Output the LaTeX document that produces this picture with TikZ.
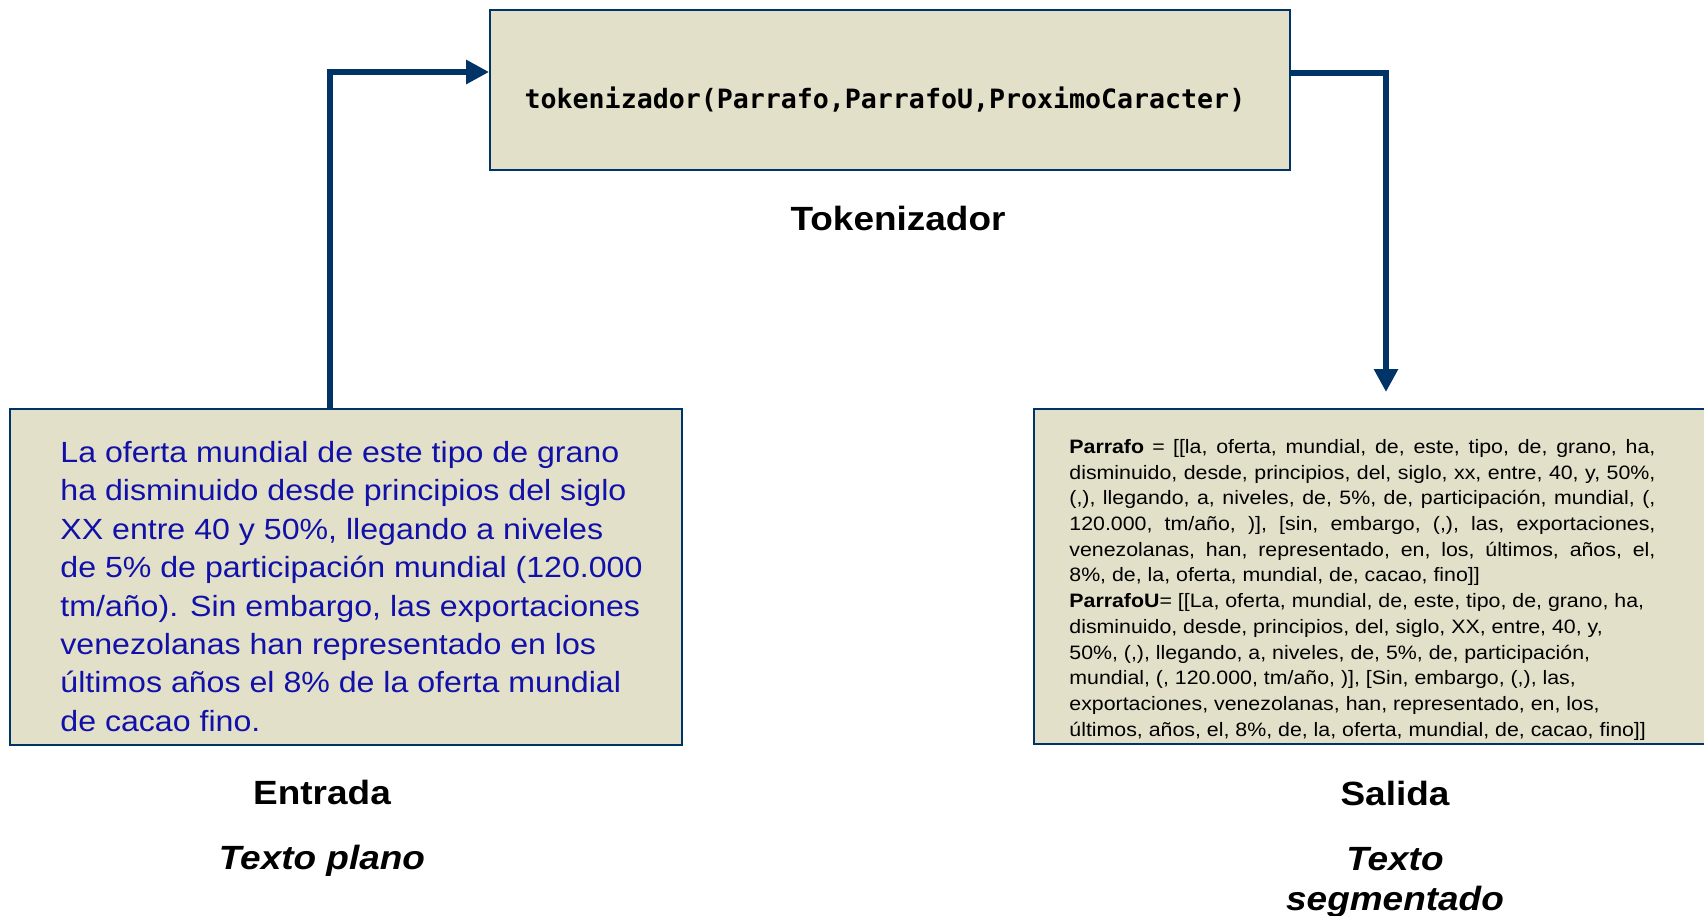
\documentclass[tikz,border=0pt]{standalone}
\usepackage{fontspec}
\setmainfont[FakeStretch=1.1]{Liberation Sans}
\newfontfamily\codigo{DejaVu Sans Mono}
\usetikzlibrary{arrows.meta}
\definecolor{marino}{RGB}{0,51,102}
\definecolor{arena}{RGB}{226,224,200}
\definecolor{azul}{RGB}{17,17,170}
\newcommand{\justa}[1]{\hbox to 293pt{#1}}
\begin{document}
\begin{tikzpicture}[x=0.5pt,y=-0.5pt,line join=miter,>={Triangle[length=11.5pt,width=11.5pt]}]
\tikzset{caja/.style={draw=marino,line width=0.9pt,fill=arena,inner sep=0pt},
	titulo/.style={font=\fontsize{16.8}{20}\selectfont\bfseries,anchor=base},
	subtitulo/.style={font=\fontsize{16.8}{20}\selectfont\bfseries\itshape,anchor=base},
	flecha/.style={->,draw=marino,line width=3.3pt}}
\useasboundingbox (0,0) rectangle (1704,916);
% cajas
\node[caja,minimum width=400pt,minimum height=80pt] (tok) at (890,90) {};
\node[caja,minimum width=336pt,minimum height=168pt] (entrada) at (346,577) {};
\node[caja,minimum width=343pt,minimum height=167.5pt] (salida) at (1377,576.5) {};
% textos
\node[font={\codigo\bfseries\fontsize{13.3}{16}\selectfont},anchor=base] (llamada) at (885,108)
	{tokenizador(Parrafo,ParrafoU,ProximoCaracter)};
\node[anchor=north west,inner sep=0pt,align=left,text=azul,font=\fontsize{14.6}{19.2}\selectfont] (plano) at (60,441)
	{La oferta mundial de este tipo de grano\\
	ha disminuido desde principios del siglo\\
	XX entre 40 y 50\%, llegando a niveles\\
	de 5\% de participación mundial (120.000\\
	tm/año). Sin embargo, las exportaciones\\
	venezolanas han representado en los\\
	últimos años el 8\% de la oferta mundial\\
	de cacao fino.};
\node[anchor=north west,inner sep=0pt,align=left,font=\fontsize{9.7}{12.85}\selectfont] (tokens) at (1069,439)
	{\justa{\textbf{Parrafo} = [[la, oferta, mundial, de, este, tipo, de, grano, ha,}\\
	\justa{disminuido, desde, principios, del, siglo, xx, entre, 40, y, 50\%,}\\
	\justa{(,), llegando, a, niveles, de, 5\%, de, participación, mundial, (,}\\
	\justa{120.000, tm/año, )], [sin, embargo, (,), las, exportaciones,}\\
	\justa{venezolanas, han, representado, en, los, últimos, años, el,}\\
	8\%, de, la, oferta, mundial, de, cacao, fino]]\\
	\textbf{ParrafoU}= [[La, oferta, mundial, de, este, tipo, de, grano, ha,\\
	disminuido, desde, principios, del, siglo, XX, entre, 40, y,\\
	50\%, (,), llegando, a, niveles, de, 5\%, de, participación,\\
	mundial, (, 120.000, tm/año, )], [Sin, embargo, (,), las,\\
	exportaciones, venezolanas, han, representado, en, los,\\
	últimos, años, el, 8\%, de, la, oferta, mundial, de, cacao, fino]]};
\node[titulo] (nTok) at (898,230) {Tokenizador};
\node[titulo] (nEnt) at (322,804) {Entrada};
\node[subtitulo] (nPlano) at (322,869) {Texto plano};
\node[titulo] (nSal) at (1395,805) {Salida};
\node[subtitulo,anchor=north,align=center] (nSeg) at (1395,840) {Texto\\segmentado};
% flechas
\coordinate (codo1) at (330,72);
\coordinate (codo2) at (1386,73);
\coordinate (fin2) at (1386,392);
\draw[flecha] (entrada.north -| codo1) |- (tok.west |- codo1);
\draw[flecha] (tok.east |- codo2) -| (fin2);
\end{tikzpicture}
\end{document}
